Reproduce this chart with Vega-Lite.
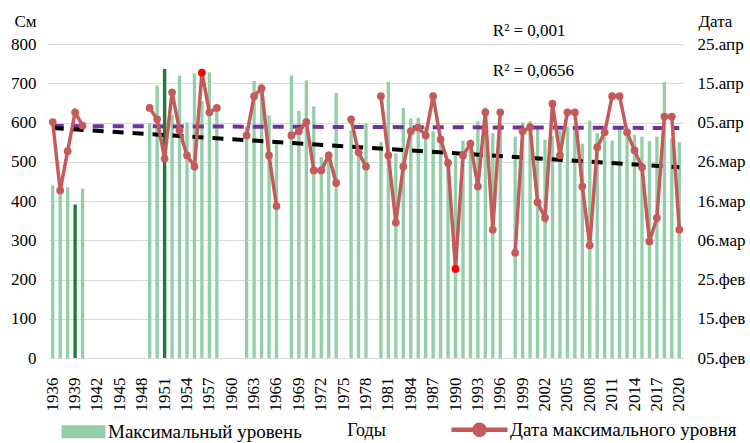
{
  "$schema": "https://vega.github.io/schema/vega-lite/v6.json",
  "width": 634,
  "height": 314,
  "autosize": {"type": "none"},
  "padding": {"left": 49, "top": 44, "right": 67, "bottom": 85},
  "background": "white",
  "config": {
    "font": "Liberation Serif",
    "view": {"stroke": null},
    "axis": {"labelFont": "Liberation Serif", "titleFont": "Liberation Serif", "labelColor": "#000", "titleColor": "#000", "titleFontWeight": "normal", "labelFontSize": 17, "titleFontSize": 17, "ticks": false, "domain": false}
  },
  "datasets": {
    "obs": [
      {"year": 1936, "lvl": 440, "d": 60.1}, {"year": 1937, "lvl": 435, "d": 42.7}, {"year": 1938, "lvl": 435, "d": 52.7}, {"year": 1939, "lvl": 391, "d": 62.6}, {"year": 1940, "lvl": 432, "d": 59.2},
      {"year": 1941, "lvl": null, "d": null}, {"year": 1942, "lvl": null, "d": null}, {"year": 1943, "lvl": null, "d": null}, {"year": 1944, "lvl": null, "d": null}, {"year": 1945, "lvl": null, "d": null}, {"year": 1946, "lvl": null, "d": null}, {"year": 1947, "lvl": null, "d": null}, {"year": 1948, "lvl": null, "d": null},
      {"year": 1949, "lvl": 598, "d": 63.7}, {"year": 1950, "lvl": 694, "d": 60.8}, {"year": 1951, "lvl": 736, "d": 50.8}, {"year": 1952, "lvl": 620, "d": 67.7}, {"year": 1953, "lvl": 719, "d": 58.0}, {"year": 1954, "lvl": 600, "d": 51.6}, {"year": 1955, "lvl": 725, "d": 48.8}, {"year": 1956, "lvl": 655, "d": 72.7}, {"year": 1957, "lvl": 728, "d": 62.6}, {"year": 1958, "lvl": 630, "d": 63.7},
      {"year": 1959, "lvl": null, "d": null}, {"year": 1960, "lvl": null, "d": null}, {"year": 1961, "lvl": null, "d": null},
      {"year": 1962, "lvl": 590, "d": 56.7}, {"year": 1963, "lvl": 706, "d": 66.7}, {"year": 1964, "lvl": 700, "d": 68.7}, {"year": 1965, "lvl": 618, "d": 51.6}, {"year": 1966, "lvl": 547, "d": 38.7},
      {"year": 1967, "lvl": null, "d": null},
      {"year": 1968, "lvl": 720, "d": 56.7}, {"year": 1969, "lvl": 630, "d": 57.8}, {"year": 1970, "lvl": 707, "d": 60.1}, {"year": 1971, "lvl": 641, "d": 47.8}, {"year": 1972, "lvl": 512, "d": 47.8}, {"year": 1973, "lvl": 525, "d": 51.6}, {"year": 1974, "lvl": 675, "d": 44.6},
      {"year": 1975, "lvl": null, "d": null},
      {"year": 1976, "lvl": 580, "d": 60.8}, {"year": 1977, "lvl": 540, "d": 52.4}, {"year": 1978, "lvl": 598, "d": 48.8},
      {"year": 1979, "lvl": null, "d": null},
      {"year": 1980, "lvl": 550, "d": 66.7}, {"year": 1981, "lvl": 703, "d": 51.6}, {"year": 1982, "lvl": 521, "d": 34.5}, {"year": 1983, "lvl": 637, "d": 48.8}, {"year": 1984, "lvl": 610, "d": 57.8}, {"year": 1985, "lvl": 612, "d": 58.7}, {"year": 1986, "lvl": 590, "d": 56.7}, {"year": 1987, "lvl": 578, "d": 66.7}, {"year": 1988, "lvl": 560, "d": 55.7}, {"year": 1989, "lvl": 499, "d": 49.7}, {"year": 1990, "lvl": 516, "d": 22.7}, {"year": 1991, "lvl": 554, "d": 51.6}, {"year": 1992, "lvl": 554, "d": 54.6}, {"year": 1993, "lvl": 603, "d": 43.7}, {"year": 1994, "lvl": 639, "d": 62.6}, {"year": 1995, "lvl": 573, "d": 32.7}, {"year": 1996, "lvl": 600, "d": 62.6},
      {"year": 1997, "lvl": null, "d": null},
      {"year": 1998, "lvl": 564, "d": 26.8}, {"year": 1999, "lvl": 600, "d": 57.8}, {"year": 2000, "lvl": 603, "d": 58.8}, {"year": 2001, "lvl": 590, "d": 39.7}, {"year": 2002, "lvl": 556, "d": 35.7}, {"year": 2003, "lvl": 565, "d": 64.8}, {"year": 2004, "lvl": 580, "d": 51.6}, {"year": 2005, "lvl": 590, "d": 62.6}, {"year": 2006, "lvl": 588, "d": 62.6}, {"year": 2007, "lvl": 546, "d": 43.7}, {"year": 2008, "lvl": 605, "d": 28.7}, {"year": 2009, "lvl": 573, "d": 53.7}, {"year": 2010, "lvl": 563, "d": 57.5}, {"year": 2011, "lvl": 554, "d": 66.7}, {"year": 2012, "lvl": 592, "d": 66.7}, {"year": 2013, "lvl": 584, "d": 57.5}, {"year": 2014, "lvl": 569, "d": 52.9}, {"year": 2015, "lvl": 564, "d": 48.6}, {"year": 2016, "lvl": 552, "d": 29.7}, {"year": 2017, "lvl": 564, "d": 35.7}, {"year": 2018, "lvl": 703, "d": 61.5}, {"year": 2019, "lvl": 560, "d": 61.5}, {"year": 2020, "lvl": 550, "d": 32.7}
    ],
    "trend": [
      {"year": 1936, "lvl": 591, "d": 58.6},
      {"year": 2020, "lvl": 586, "d": 48.6}
    ],
    "notes": [
      {"year": 1995, "lvl": 833, "label": "R² = 0,001"},
      {"year": 1995, "lvl": 732, "label": "R² = 0,0656"}
    ]
  },
  "encoding": {
    "x": {
      "field": "year", "type": "ordinal",
      "scale": {"paddingInner": 0, "paddingOuter": 0},
      "axis": {
        "title": "Годы", "labelAngle": -90, "labelPadding": 19, "grid": false,
        "values": [1936, 1939, 1942, 1945, 1948, 1951, 1954, 1957, 1960, 1963, 1966, 1969, 1972, 1975, 1978, 1981, 1984, 1987, 1990, 1993, 1996, 1999, 2002, 2005, 2008, 2011, 2014, 2017, 2020],
        "titleX": 317, "titleY": 72, "titleBaseline": "middle", "titleFontSize": 18
      }
    }
  },
  "layer": [
    {
      "encoding": {
        "y": {
          "field": "lvl", "type": "quantitative",
          "scale": {"domain": [0, 800], "nice": false},
          "axis": {"orient": "left", "title": "См", "values": [0, 100, 200, 300, 400, 500, 600, 700, 800], "grid": true, "gridColor": "#d9d9d9", "labelPadding": 13, "titleAngle": 0, "titleX": -35, "titleY": -23, "titleAlign": "left", "titleBaseline": "middle"}
        }
      },
      "layer": [
        {
          "data": {"name": "obs"},
          "mark": {"type": "bar", "width": {"band": 0.45}},
          "encoding": {
            "color": {
              "condition": {"test": "datum.year === 1939 || datum.year === 1951", "value": "#1b7a38"},
              "datum": "Максимальный уровень",
              "type": "nominal",
              "scale": {
                "domain": ["Максимальный уровень", "Дата максимального уровня", "Линейный (Максимальный уровень)", "Линейный (Дата максимального уровня)"],
                "range": ["#93cfa9", "#c55a5a", "#7030a0", "#000000"]
              },
              "legend": {
                "title": null, "orient": "none", "legendX": 37, "legendY": 376,
                "direction": "horizontal", "columns": 2, "columnPadding": 140, "rowPadding": -22,
                "labelFont": "Liberation Serif", "labelFontSize": 19, "labelColor": "#000", "labelLimit": 400, "labelOffset": 3,
                "labelExpr": "indexof(datum.label, 'Линейный') === 0 ? '' : datum.label",
                "symbolSize": 400,
                "encode": {
                  "symbols": {
                    "update": {
                      "shape": {"signal": "datum.value === 'Максимальный уровень' ? 'M-3.4,-0.65H1V0.65H-3.4Z' : datum.value === 'Дата максимального уровня' ? 'M-4.6,0H1M-1.3,0A0.5,0.5 0 1 1 -2.3,0A0.5,0.5 0 1 1 -1.3,0' : datum.value === 'Линейный (Максимальный уровень)' ? 'M-3.4,0H1' : 'M-4.6,0H1'"},
                      "fill": {"signal": "datum.value === 'Максимальный уровень' ? '#93cfa9' : datum.value === 'Дата максимального уровня' ? '#c55a5a' : 'transparent'"},
                      "stroke": {"signal": "datum.value === 'Максимальный уровень' ? 'transparent' : datum.value === 'Дата максимального уровня' ? '#c55a5a' : datum.value === 'Линейный (Максимальный уровень)' ? '#7030a0' : '#000000'"},
                      "strokeWidth": {"signal": "datum.value === 'Максимальный уровень' ? 0 : 4.5"},
                      "strokeDash": {"signal": "indexof(datum.value, 'Линейный') === 0 ? [10, 7] : [1, 0]"},
                      "opacity": {"value": 1}
                    }
                  }
                }
              }
            }
          }
        },
        {
          "data": {"name": "trend"},
          "mark": {"type": "line", "strokeWidth": 4, "strokeDash": [11, 9]},
          "encoding": {"color": {"datum": "Линейный (Максимальный уровень)", "type": "nominal"}}
        },
        {
          "data": {"name": "notes"},
          "mark": {"type": "text", "align": "left", "baseline": "middle", "fontSize": 17, "font": "Liberation Serif", "color": "#000"},
          "encoding": {"text": {"field": "label"}}
        }
      ]
    },
    {
      "encoding": {
        "y": {
          "field": "d", "type": "quantitative",
          "scale": {"domain": [0, 80], "nice": false},
          "axis": {"orient": "right", "title": "Дата", "values": [0, 10, 20, 30, 40, 50, 60, 70, 80], "grid": false, "labelPadding": 14,
            "labelExpr": "['05.фев','15.фев','25.фев','06.мар','16.мар','26.мар','05.апр','15.апр','25.апр'][round(datum.value / 10)]",
            "titleAngle": 0, "titleX": 15, "titleY": -23, "titleAlign": "left", "titleBaseline": "middle"}
        }
      },
      "layer": [
        {
          "data": {"name": "trend"},
          "mark": {"type": "line", "strokeWidth": 4, "strokeDash": [11, 9]},
          "encoding": {"color": {"datum": "Линейный (Дата максимального уровня)", "type": "nominal"}}
        },
        {
          "data": {"name": "obs"},
          "mark": {"type": "line", "strokeWidth": 3.5, "invalid": "break-paths-filter-domains"},
          "encoding": {"color": {"datum": "Дата максимального уровня", "type": "nominal"}}
        },
        {
          "data": {"name": "obs"},
          "mark": {"type": "point", "filled": true, "size": 60, "opacity": 1},
          "encoding": {
            "color": {
              "condition": {"test": "datum.year === 1956 || datum.year === 1990", "value": "#ff0000"},
              "datum": "Дата максимального уровня", "type": "nominal"
            }
          }
        }
      ]
    }
  ],
  "resolve": {"scale": {"y": "independent"}}
}
